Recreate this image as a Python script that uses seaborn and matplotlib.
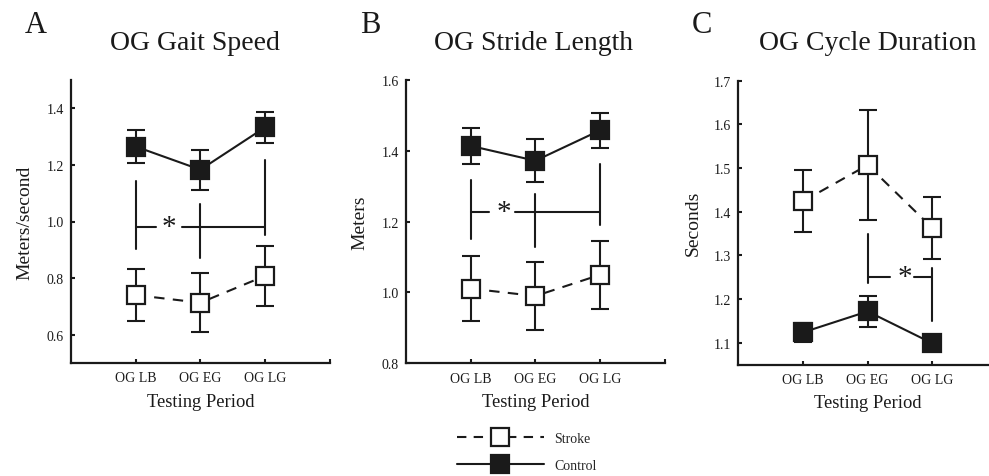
import numpy as np
import pandas as pd
import matplotlib
matplotlib.use("Agg")
import matplotlib.pyplot as plt
from matplotlib.lines import Line2D
import seaborn as sns

# ---------------- data ----------------
periods = ["OG LB", "OG EG", "OG LG"]
positions = [1, 2, 3]

speed_control = [1.265, 1.183, 1.333]
speed_control_err = [0.060, 0.070, 0.055]
speed_stroke = [0.740, 0.713, 0.808]
speed_stroke_err = [0.092, 0.105, 0.106]

stride_control = [1.414, 1.372, 1.458]
stride_control_err = [0.050, 0.060, 0.050]
stride_stroke = [1.011, 0.990, 1.050]
stride_stroke_err = [0.091, 0.095, 0.096]

cycle_control = [1.124, 1.172, 1.099]
cycle_control_err = [0.022, 0.035, 0.010]
cycle_stroke = [1.424, 1.507, 1.363]
cycle_stroke_err = [0.071, 0.126, 0.070]

titles = ["OG Gait Speed", "OG Stride Length", "OG Cycle Duration"]
letters = ["A", "B", "C"]
ylabels = ["Meters/second", "Meters", "Seconds"]
xlabel = "Testing Period"

ylims = [(0.5, 1.5), (0.8, 1.6), (1.05, 1.7)]
yticks = [[0.6, 0.8, 1.0, 1.2, 1.4],
          [0.8, 1.0, 1.2, 1.4, 1.6],
          [1.1, 1.2, 1.3, 1.4, 1.5, 1.6, 1.7]]

# significance brackets: vertical lines [x, ymin, ymax], horizontal y, x span, gap, star x
sig_verticals = [
    [(1, 0.904, 1.142), (2, 0.871, 1.061), (3, 0.953, 1.218)],
    [(1, 1.150, 1.317), (2, 1.129, 1.278), (3, 1.190, 1.364)],
    [(2, 1.237, 1.349), (3, 1.150, 1.271)],
]
sig_hline_y = [0.980, 1.226, 1.250]
sig_hline_span = [(1, 3), (1, 3), (2, 3)]
sig_gap = [(1.31, 1.71), (1.28, 1.69), (2.35, 2.72)]
sig_star_x = [1.52, 1.52, 2.57]

# ---------------- style ----------------
sns.set_theme(style="ticks")
plt.rcParams["font.family"] = ["Liberation Serif", "DejaVu Serif"]

INK = "#1a1a1a"
W, H = 989, 477
fig = plt.figure(figsize=(W / 100, H / 100), dpi=100)

ax_boxes = [
    (70.7, 81, 330, 364),
    (405.7, 81, 665, 364.3),
    (738.3, 81.7, 997, 365.7),
]
title_x = [195, 533, 868]
letter_x = [25, 360, 692]

datasets = [
    (speed_control, speed_control_err, speed_stroke, speed_stroke_err),
    (stride_control, stride_control_err, stride_stroke, stride_stroke_err),
    (cycle_control, cycle_control_err, cycle_stroke, cycle_stroke_err),
]

lw = 1.5
msize = 13

for i, (ctrl, ctrl_e, strk, strk_e) in enumerate(datasets):
    l, t, r, b = ax_boxes[i]
    ax = fig.add_axes([l / W, 1 - b / H, (r - l) / W, (b - t) / H])

    df = pd.DataFrame({
        "pos": positions * 2,
        "val": list(ctrl) + list(strk),
        "err": list(ctrl_e) + list(strk_e),
        "group": ["Control"] * 3 + ["Stroke"] * 3,
    })

    for grp in ["Stroke", "Control"]:
        sub = df[df.group == grp]
        ax.errorbar(sub["pos"], sub["val"], yerr=sub["err"], fmt="none",
                    ecolor=INK, elinewidth=lw, capsize=6.5, capthick=lw, zorder=2)

    sub = df[df.group == "Stroke"]
    sns.lineplot(data=sub, x="pos", y="val", ax=ax, color=INK, lw=lw,
                 linestyle=(0, (5, 4)), marker="s", markersize=msize,
                 markerfacecolor="white", markeredgecolor=INK,
                 markeredgewidth=1.6, errorbar=None, zorder=3)
    sub = df[df.group == "Control"]
    sns.lineplot(data=sub, x="pos", y="val", ax=ax, color=INK, lw=lw,
                 linestyle="-", marker="s", markersize=msize,
                 markerfacecolor=INK, markeredgecolor=INK,
                 markeredgewidth=1.6, errorbar=None, zorder=3)

    for (xv, y0, y1) in sig_verticals[i]:
        ax.plot([xv, xv], [y0, y1], color=INK, lw=lw, zorder=2)
    hx0, hx1 = sig_hline_span[i]
    g0, g1 = sig_gap[i]
    hy = sig_hline_y[i]
    ax.plot([hx0, g0], [hy, hy], color=INK, lw=lw, zorder=2)
    ax.plot([g1, hx1], [hy, hy], color=INK, lw=lw, zorder=2)
    ax.text(sig_star_x[i], hy, "*", ha="center", va="center", fontsize=21,
            color=INK, transform=ax.transData)

    ax.set_xlim(0, 4)
    ax.set_ylim(*ylims[i])
    ax.set_xticks([1, 2, 3, 4])
    ax.set_xticklabels(periods + [""], fontsize=10)
    ax.set_yticks(yticks[i])
    ax.set_yticklabels([f"{v:.1f}" for v in yticks[i]], fontsize=10)
    ax.tick_params(direction="in", length=3, width=1.5, colors=INK)
    ax.tick_params(axis="x", pad=6)
    ax.tick_params(axis="y", pad=5)
    for s in ["top", "right"]:
        ax.spines[s].set_visible(False)
    for s in ["left", "bottom"]:
        ax.spines[s].set_linewidth(1.6)
        ax.spines[s].set_color(INK)
    ax.set_xlabel(xlabel, fontsize=13.3, labelpad=6, color=INK)
    ax.set_ylabel(ylabels[i], fontsize=14, labelpad=9, color=INK)
    if ax.get_legend():
        ax.get_legend().remove()

    fig.text(title_x[i] / W, 1 - 50 / H, titles[i], ha="center", va="baseline",
             fontsize=20, color=INK)
    fig.text(letter_x[i] / W, 1 - 33 / H, letters[i], ha="left", va="baseline",
             fontsize=22, color=INK)

handles = [
    Line2D([], [], color=INK, lw=lw, linestyle=(0, (4.5, 3.5)), marker="s",
           markersize=msize, markerfacecolor="white", markeredgecolor=INK,
           markeredgewidth=1.6),
    Line2D([], [], color=INK, lw=lw, linestyle="-", marker="s",
           markersize=msize, markerfacecolor=INK, markeredgecolor=INK,
           markeredgewidth=1.6),
]
fig.legend(handles, ["Stroke", "Control"], loc="center left",
           bbox_to_anchor=(456.7 / W, 1 - 453 / H), frameon=False,
           fontsize=10, handlelength=6.3, handletextpad=0.75, labelspacing=1.05,
           borderpad=0, borderaxespad=0, numpoints=1)

fig.savefig("out.png", dpi=100, facecolor="white")
